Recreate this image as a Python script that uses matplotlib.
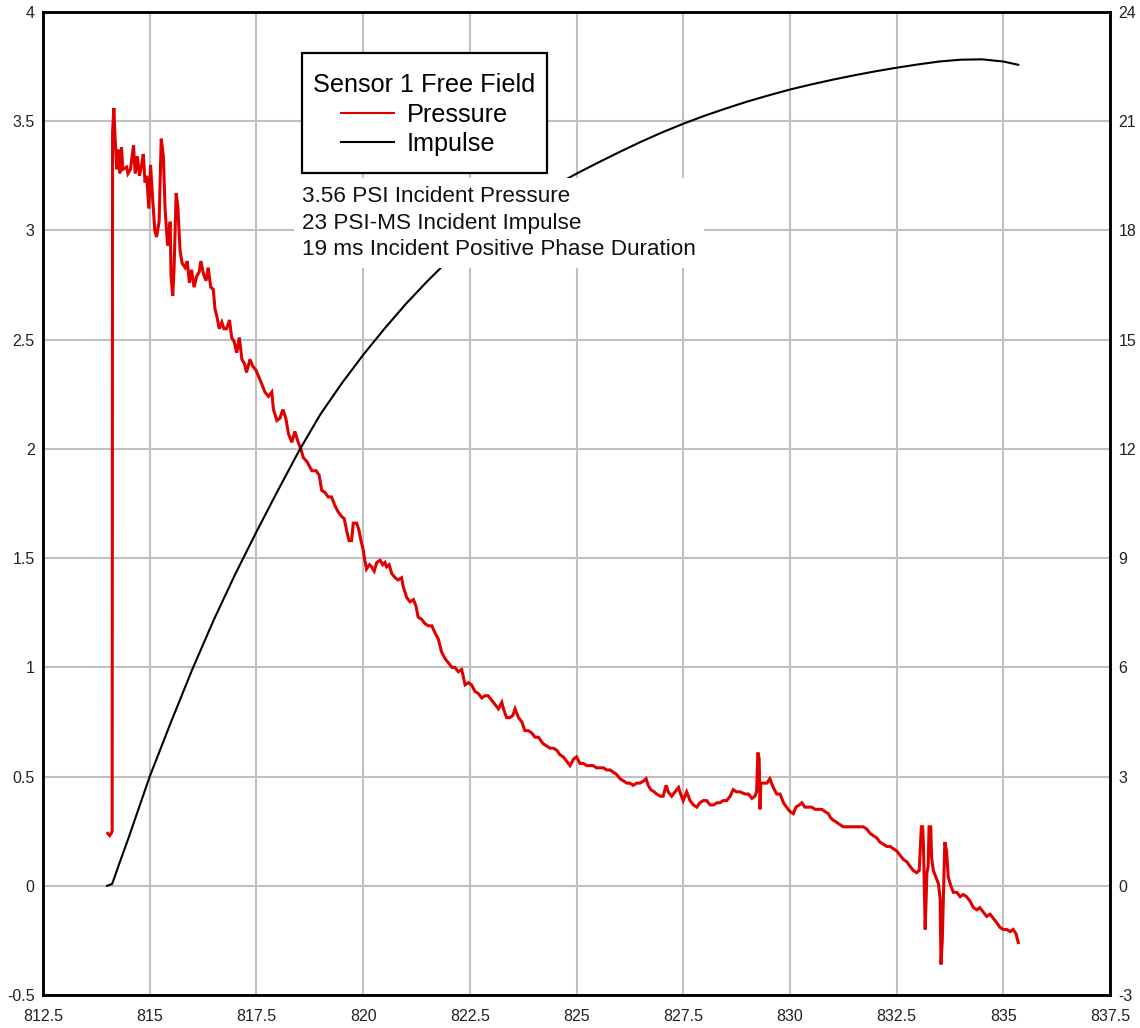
import matplotlib
matplotlib.use("Agg")
import matplotlib.pyplot as plt
from matplotlib.lines import Line2D
from matplotlib.patches import Rectangle

plt.rcParams['font.family'] = ['Liberation Sans', 'DejaVu Sans']

# Axis ticks
x_ticks = [812.5, 815, 817.5, 820, 822.5, 825, 827.5, 830, 832.5, 835, 837.5]
x_tick_labels = ["812.5", "815", "817.5", "820", "822.5", "825", "827.5", "830", "832.5", "835", "837.5"]
psi_ticks = [-0.5, 0, 0.5, 1, 1.5, 2, 2.5, 3, 3.5, 4]
psi_tick_labels = ["-0.5", "0", "0.5", "1", "1.5", "2", "2.5", "3", "3.5", "4"]
impulse_ticks = [-3, 0, 3, 6, 9, 12, 15, 18, 21, 24]
impulse_tick_labels = ["-3", "0", "3", "6", "9", "12", "15", "18", "21", "24"]

# Pressure trace (time in ms, pressure in PSI)
pressure_ms = [
    814.02, 814.06, 814.10, 814.12, 814.13, 814.16, 814.19, 814.23, 814.26, 814.30,
    814.34, 814.37, 814.46, 814.49, 814.55, 814.62, 814.66, 814.71, 814.76, 814.81,
    814.85, 814.89, 814.93, 814.98, 815.02, 815.07, 815.12, 815.16, 815.22, 815.27,
    815.32, 815.36, 815.42, 815.48, 815.50, 815.54, 815.57, 815.62, 815.66, 815.71,
    815.76, 815.83, 815.88, 815.93, 815.98, 816.04, 816.10, 816.16, 816.20, 816.26,
    816.32, 816.37, 816.43, 816.49, 816.53, 816.57, 816.63, 816.69, 816.74, 816.80,
    816.87, 816.92, 816.98, 817.04, 817.10, 817.16, 817.22, 817.27, 817.35, 817.41,
    817.49, 817.62, 817.70, 817.78, 817.86, 817.90, 817.98, 818.05, 818.12, 818.19,
    818.25, 818.33, 818.40, 818.48, 818.54, 818.60, 818.69, 818.80, 818.90, 818.97,
    819.03, 819.11, 819.18, 819.26, 819.34, 819.42, 819.50, 819.56, 819.62, 819.67,
    819.73, 819.77, 819.85, 819.90, 819.95, 820.00, 820.04, 820.08, 820.15, 820.20,
    820.26, 820.32, 820.40, 820.46, 820.51, 820.55, 820.61, 820.67, 820.75, 820.82,
    820.90, 820.94, 821.02, 821.10, 821.18, 821.24, 821.29, 821.37, 821.45, 821.53,
    821.61, 821.68, 821.76, 821.84, 821.92, 822.00, 822.08, 822.15, 822.23, 822.31,
    822.39, 822.47, 822.54, 822.62, 822.70, 822.78, 822.86, 822.93, 823.01, 823.09,
    823.17, 823.25, 823.29, 823.36, 823.44, 823.51, 823.56, 823.64, 823.72, 823.79,
    823.87, 823.95, 824.03, 824.11, 824.18, 824.22, 824.30, 824.38, 824.46, 824.54,
    824.61, 824.69, 824.77, 824.85, 824.93, 825.00, 825.08, 825.16, 825.24, 825.32,
    825.39, 825.47, 825.55, 825.63, 825.71, 825.79, 825.86, 825.94, 826.02, 826.10,
    826.18, 826.25, 826.33, 826.41, 826.49, 826.57, 826.63, 826.68, 826.74, 826.82,
    826.88, 826.96, 827.03, 827.10, 827.15, 827.23, 827.31, 827.39, 827.44, 827.50,
    827.58, 827.66, 827.74, 827.82, 827.89, 827.97, 828.05, 828.13, 828.21, 828.29,
    828.36, 828.44, 828.52, 828.60, 828.67, 828.75, 828.83, 828.95, 829.03, 829.11,
    829.18, 829.22, 829.25, 829.28, 829.30, 829.32, 829.38, 829.46, 829.53, 829.61,
    829.69, 829.77, 829.85, 829.92, 830.00, 830.08, 830.14, 830.22, 830.28, 830.35,
    830.43, 830.51, 830.59, 830.67, 830.75, 830.82, 830.90, 830.96, 831.02, 831.10,
    831.17, 831.25, 831.33, 831.41, 831.49, 831.57, 831.64, 831.72, 831.80, 831.88,
    831.95, 832.03, 832.11, 832.19, 832.27, 832.35, 832.42, 832.50, 832.58, 832.66,
    832.74, 832.81, 832.89, 832.97, 833.03, 833.05, 833.08, 833.11, 833.13, 833.17,
    833.21, 833.24, 833.26, 833.30, 833.32, 833.36, 833.42, 833.48, 833.52, 833.54,
    833.57, 833.59, 833.63, 833.67, 833.71, 833.77, 833.83, 833.91, 833.99, 834.06,
    834.14, 834.22, 834.30, 834.38, 834.45, 834.53, 834.61, 834.69, 834.77, 834.85,
    834.92, 835.00, 835.08, 835.16, 835.23, 835.30, 835.35,
]
pressure_psi = [
    0.24, 0.23, 0.24, 0.25, 3.45, 3.56, 3.42, 3.28, 3.37, 3.26,
    3.38, 3.28, 3.29, 3.26, 3.28, 3.39, 3.26, 3.34, 3.25, 3.30,
    3.35, 3.22, 3.25, 3.10, 3.30, 3.14, 3.00, 2.97, 3.04, 3.42,
    3.34, 3.10, 2.93, 3.04, 2.79, 2.70, 2.82, 3.17, 3.11, 2.91,
    2.85, 2.83, 2.86, 2.76, 2.82, 2.74, 2.79, 2.81, 2.86, 2.80,
    2.77, 2.83, 2.74, 2.73, 2.64, 2.61, 2.55, 2.58, 2.55, 2.55,
    2.59, 2.51, 2.49, 2.44, 2.51, 2.41, 2.39, 2.35, 2.41, 2.38,
    2.36, 2.30, 2.26, 2.24, 2.26, 2.18, 2.13, 2.14, 2.18, 2.14,
    2.07, 2.03, 2.08, 2.03, 2.00, 1.96, 1.94, 1.90, 1.90, 1.88,
    1.81, 1.80, 1.78, 1.78, 1.74, 1.71, 1.69, 1.68, 1.62, 1.58,
    1.58, 1.66, 1.66, 1.63, 1.58, 1.54, 1.49, 1.45, 1.47, 1.46,
    1.44, 1.48, 1.49, 1.47, 1.48, 1.46, 1.47, 1.43, 1.41, 1.40,
    1.41, 1.37, 1.32, 1.30, 1.31, 1.28, 1.23, 1.22, 1.20, 1.19,
    1.19, 1.16, 1.13, 1.07, 1.04, 1.02, 1.00, 1.00, 0.98, 0.99,
    0.92, 0.93, 0.92, 0.89, 0.88, 0.86, 0.87, 0.87, 0.85, 0.83,
    0.81, 0.84, 0.81, 0.77, 0.77, 0.78, 0.81, 0.77, 0.75, 0.71,
    0.71, 0.70, 0.68, 0.68, 0.66, 0.65, 0.64, 0.63, 0.63, 0.62,
    0.60, 0.59, 0.57, 0.55, 0.58, 0.59, 0.56, 0.56, 0.55, 0.55,
    0.55, 0.54, 0.54, 0.54, 0.53, 0.53, 0.52, 0.51, 0.49, 0.48,
    0.47, 0.47, 0.46, 0.47, 0.47, 0.48, 0.49, 0.46, 0.44, 0.43,
    0.42, 0.41, 0.41, 0.46, 0.43, 0.41, 0.43, 0.45, 0.42, 0.39,
    0.43, 0.39, 0.37, 0.36, 0.38, 0.39, 0.39, 0.37, 0.37, 0.38,
    0.38, 0.39, 0.39, 0.41, 0.44, 0.43, 0.43, 0.42, 0.42, 0.40,
    0.41, 0.43, 0.61, 0.58, 0.35, 0.47, 0.47, 0.47, 0.49, 0.45,
    0.42, 0.42, 0.38, 0.36, 0.34, 0.33, 0.36, 0.37, 0.38, 0.36,
    0.36, 0.36, 0.35, 0.35, 0.35, 0.34, 0.33, 0.31, 0.30, 0.29,
    0.28, 0.27, 0.27, 0.27, 0.27, 0.27, 0.27, 0.27, 0.26, 0.24,
    0.23, 0.22, 0.20, 0.19, 0.18, 0.18, 0.17, 0.16, 0.14, 0.12,
    0.11, 0.09, 0.07, 0.06, 0.07, 0.15, 0.27, 0.27, 0.18, -0.20,
    0.06, 0.09, 0.27, 0.27, 0.13, 0.07, 0.04, 0.01, -0.06, -0.36,
    -0.25, -0.10, 0.20, 0.16, 0.04, 0.00, -0.03, -0.03, -0.05, -0.04,
    -0.05, -0.07, -0.10, -0.11, -0.10, -0.12, -0.14, -0.13, -0.15, -0.17,
    -0.19, -0.20, -0.20, -0.21, -0.20, -0.22, -0.26,
]

# Impulse trace (time in ms, impulse in PSI-ms)
impulse_ms = [
    814.00, 814.12, 814.30, 814.50, 814.75, 815.00, 815.50, 816.00, 816.50, 817.00,
    817.50, 818.00, 818.50, 819.00, 819.50, 820.00, 820.50, 821.00, 821.50, 822.00,
    822.50, 823.00, 823.50, 824.00, 824.50, 825.00, 825.50, 826.00, 826.50, 827.00,
    827.50, 828.00, 828.50, 829.00, 829.50, 830.00, 830.50, 831.00, 831.50, 832.00,
    832.50, 833.00, 833.50, 834.00, 834.50, 835.00, 835.35,
]
impulse_psims = [
    0.00, 0.05, 0.65, 1.30, 2.15, 3.00, 4.50, 5.95, 7.30, 8.55,
    9.72, 10.85, 11.95, 12.95, 13.80, 14.58, 15.30, 15.98, 16.60, 17.18,
    17.68, 18.12, 18.52, 18.90, 19.24, 19.56, 19.86, 20.15, 20.43, 20.69,
    20.93, 21.15, 21.35, 21.54, 21.71, 21.87, 22.01, 22.14, 22.26, 22.37,
    22.47, 22.56, 22.64, 22.69, 22.70, 22.64, 22.55,
]

legend_title = "Sensor 1 Free Field"
series_labels = ["Pressure", "Impulse"]
summary_lines = [
    "3.56 PSI Incident Pressure",
    "23 PSI-MS Incident Impulse",
    "19 ms Incident Positive Phase Duration",
]

W, H = 1140, 1028
fig = plt.figure(figsize=(W / 100, H / 100), dpi=100)
fig.patch.set_facecolor("white")

ax = fig.add_axes([43 / W, 33 / H, 1067 / W, 983 / H])
ax2 = ax.twinx()

red = "#E00000"
ax.plot(pressure_ms, pressure_psi, color=red, lw=2.2, solid_joinstyle="miter")
ax2.plot(impulse_ms, impulse_psims, color="black", lw=1.5)

ax.set_xlim(812.5, 837.5)
ax.set_ylim(-0.5, 4)
ax2.set_ylim(-3, 24)

ax.set_xticks(x_ticks)
ax.set_xticklabels(x_tick_labels)
ax.set_yticks(psi_ticks)
ax.set_yticklabels(psi_tick_labels)
ax2.set_yticks(impulse_ticks)
ax2.set_yticklabels(impulse_tick_labels)

label_color = "#222222"
ax.tick_params(axis="x", length=0, pad=10, labelsize=11.5, labelcolor=label_color)
ax.tick_params(axis="y", length=0, pad=6, labelsize=11.5, labelcolor=label_color)
ax2.tick_params(axis="y", length=0, pad=6, labelsize=11.5, labelcolor=label_color)

ax.grid(True, color="#C0C0C0", lw=1.5)
ax.set_axisbelow(True)
for a in (ax, ax2):
    for s in a.spines.values():
        s.set_linewidth(1.8)
        s.set_color("black")

# Legend: framed white box with centred title and entries
box_l, box_t, box_r, box_b = 302, 53, 547, 173
fig.patches.append(Rectangle((box_l / W, 1 - box_b / H), (box_r - box_l) / W,
                             (box_b - box_t) / H, transform=fig.transFigure,
                             facecolor="white", edgecolor="black", lw=1.6, zorder=9))
handles = [Line2D([], [], color=red, lw=1.5), Line2D([], [], color="black", lw=1.5)]
leg = fig.legend(handles, series_labels, title=legend_title,
                 loc="center", bbox_to_anchor=((box_l + box_r) / 2 / W, 1 - (box_t + box_b + 3) / 2 / H),
                 bbox_transform=fig.transFigure, borderaxespad=0, frameon=False,
                 fontsize=18.2, title_fontsize=18.2, alignment="center",
                 handlelength=2.1, handletextpad=0.5, borderpad=0.2,
                 labelspacing=0.2)
leg.set_zorder(10)

fig.text(302 / W, 1 - 186 / H, "\n".join(summary_lines), fontsize=16.2,
         ha="left", va="top", linespacing=1.35, color="#111111", zorder=11,
         bbox=dict(facecolor="white", edgecolor="none", boxstyle="square,pad=0.35"))

fig.savefig("out.png", dpi=100, facecolor="white")
